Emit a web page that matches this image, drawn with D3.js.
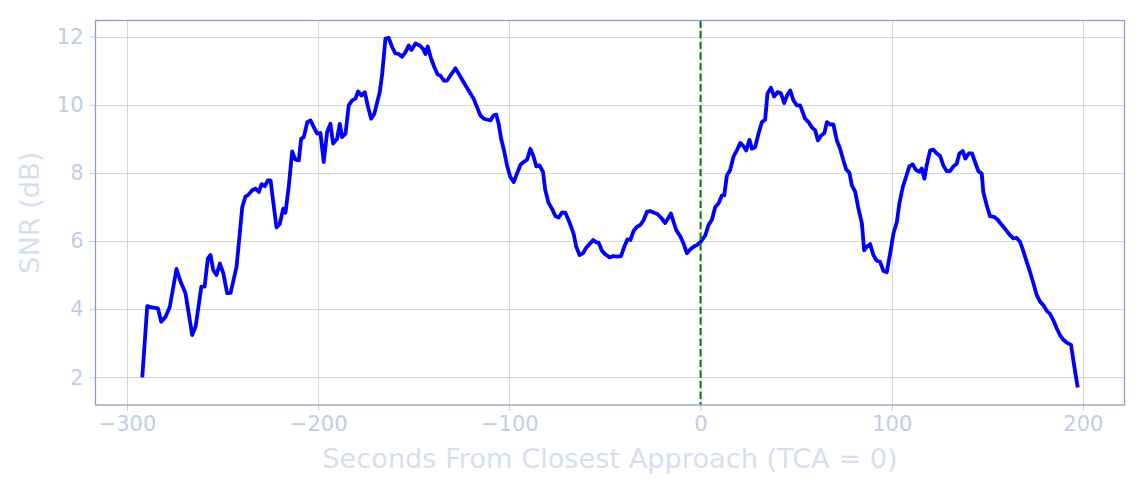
<!DOCTYPE html>
<html>
<head>
<meta charset="utf-8">
<script src="https://cdn.jsdelivr.net/npm/d3@7"></script>
<style>
  body { margin: 0; background: #fff; }
  svg { display: block; font-family: "DejaVu Sans", sans-serif; }
</style>
</head>
<body>
<div id="chart"></div>
<script>
// seconds from TCA
const seconds = [
  -292.0, -289.4, -286.8, -283.8, -282.1, -279.8, -277.6, -274.1, -272.0, -269.4,
  -265.9, -264.1, -261.1, -259.4, -257.7, -256.3, -254.9, -253.2, -251.4, -249.6,
  -247.6, -245.8, -242.7, -241.5, -239.7, -238.0, -236.8, -234.5, -232.8, -231.0,
  -229.6, -227.9, -226.3, -224.9, -221.8, -220.1, -218.3, -217.1, -215.4, -213.6,
  -211.9, -210.1, -208.9, -207.5, -205.7, -204.0, -202.3, -200.5, -198.8, -197.1,
  -195.3, -193.6, -192.2, -190.1, -188.7, -187.5, -185.7, -184.0, -182.2, -180.5,
  -179.1, -177.4, -175.6, -174.1, -172.3, -170.6, -167.8, -166.5, -164.8, -163.1,
  -161.3, -159.6, -157.9, -156.1, -154.4, -152.6, -151.2, -149.1, -146.9, -145.1,
  -143.9, -142.7, -140.9, -139.2, -137.5, -136.1, -134.3, -132.6, -130.8, -128.2,
  -126.5, -123.9, -121.3, -118.7, -116.9, -115.2, -113.4, -111.3, -109.9, -108.2,
  -106.8, -105.6, -104.3, -103.0, -101.2, -99.5, -97.7, -96.0, -94.2, -92.5,
  -90.7, -89.0, -87.3, -85.9, -84.2, -82.4, -81.2, -79.5, -77.7, -75.9,
  -74.2, -72.4, -70.7, -69.0, -67.7, -66.4, -65.0, -63.3, -61.5, -59.7,
  -57.7, -56.2, -54.5, -53.3, -51.5, -49.8, -47.6, -45.5, -43.4, -41.6,
  -39.9, -38.2, -36.7, -35.0, -33.2, -31.5, -29.8, -28.0, -26.3, -24.6,
  -22.5, -20.7, -18.5, -17.0, -15.5, -14.1, -12.7, -10.6, -8.9, -7.1,
  -5.4, -3.7, -1.9, 0.0, 2.5, 4.2, 6.0, 7.7, 9.4, 11.2,
  12.4, 13.8, 15.5, 17.2, 19.0, 20.8, 22.5, 23.9, 25.6, 26.9,
  28.6, 30.3, 32.1, 33.8, 35.0, 36.8, 38.5, 40.3, 42.0, 43.8,
  45.2, 46.9, 48.6, 50.4, 52.1, 54.7, 56.5, 58.2, 60.0, 61.4,
  63.1, 64.8, 66.1, 67.8, 69.5, 71.3, 73.0, 74.7, 76.2, 77.9,
  79.1, 80.9, 82.6, 84.4, 85.6, 87.0, 88.7, 90.4, 92.2, 93.9,
  95.7, 97.4, 99.2, 100.9, 102.7, 104.0, 105.8, 107.5, 109.2, 111.0,
  112.8, 114.5, 115.7, 117.1, 118.3, 120.1, 121.8, 123.6, 125.3, 127.0,
  128.8, 130.5, 132.3, 134.0, 135.4, 137.2, 138.5, 140.3, 142.0, 143.6,
  145.3, 147.1, 147.9, 149.7, 151.4, 153.5, 155.3, 157.6, 159.8, 161.9,
  163.6, 165.4, 167.1, 168.8, 170.6, 172.3, 174.1, 175.8, 177.6, 179.3,
  181.1, 182.8, 184.5, 186.3, 188.0, 189.8, 191.5, 193.8, 195.5, 197.3
];

// SNR in dB
const snr = [
  2.00, 4.09, 4.05, 4.02, 3.63, 3.78, 4.07, 5.18, 4.81, 4.47,
  3.24, 3.49, 4.66, 4.66, 5.49, 5.59, 5.15, 5.00, 5.34, 5.05,
  4.47, 4.48, 5.24, 5.93, 7.00, 7.31, 7.34, 7.49, 7.54, 7.44,
  7.67, 7.61, 7.78, 7.78, 6.40, 6.50, 6.95, 6.83, 7.59, 8.63,
  8.39, 8.37, 9.00, 9.05, 9.49, 9.54, 9.34, 9.15, 9.17, 8.32,
  9.20, 9.44, 8.86, 9.00, 9.44, 9.05, 9.15, 9.98, 10.13, 10.18,
  10.39, 10.27, 10.37, 9.98, 9.59, 9.74, 10.37, 10.91, 11.94, 11.96,
  11.69, 11.51, 11.49, 11.41, 11.54, 11.74, 11.61, 11.80, 11.74, 11.64,
  11.49, 11.71, 11.35, 11.10, 10.89, 10.86, 10.71, 10.71, 10.86, 11.07,
  10.91, 10.66, 10.42, 10.18, 9.93, 9.69, 9.59, 9.56, 9.54, 9.69,
  9.71, 9.44, 9.00, 8.71, 8.22, 7.88, 7.73, 7.98, 8.24, 8.32,
  8.39, 8.71, 8.47, 8.19, 8.22, 8.03, 7.49, 7.12, 6.95, 6.73,
  6.69, 6.84, 6.83, 6.61, 6.42, 6.22, 5.83, 5.59, 5.64, 5.81,
  5.93, 6.03, 5.96, 5.95, 5.71, 5.61, 5.52, 5.56, 5.54, 5.56,
  5.83, 6.05, 6.03, 6.30, 6.42, 6.47, 6.61, 6.86, 6.88, 6.84,
  6.79, 6.69, 6.53, 6.66, 6.81, 6.56, 6.32, 6.14, 5.93, 5.64,
  5.75, 5.83, 5.88, 5.97, 6.17, 6.47, 6.63, 7.00, 7.10, 7.34,
  7.34, 7.93, 8.08, 8.47, 8.66, 8.88, 8.78, 8.66, 8.97, 8.71,
  8.76, 9.15, 9.49, 9.56, 10.32, 10.50, 10.24, 10.37, 10.34, 10.05,
  10.27, 10.42, 10.13, 9.98, 9.98, 9.59, 9.49, 9.34, 9.25, 8.95,
  9.10, 9.17, 9.49, 9.42, 9.42, 8.95, 8.71, 8.37, 8.10, 8.00,
  7.64, 7.44, 6.95, 6.52, 5.73, 5.83, 5.91, 5.59, 5.42, 5.39,
  5.12, 5.08, 5.64, 6.22, 6.56, 7.10, 7.59, 7.88, 8.19, 8.25,
  8.08, 8.03, 8.13, 7.83, 8.22, 8.66, 8.68, 8.57, 8.50, 8.22,
  8.05, 8.05, 8.19, 8.27, 8.57, 8.64, 8.42, 8.57, 8.57, 8.32,
  8.05, 7.98, 7.44, 7.05, 6.73, 6.71, 6.63, 6.47, 6.32, 6.17,
  6.08, 6.09, 5.98, 5.71, 5.39, 5.10, 4.76, 4.42, 4.22, 4.12,
  3.95, 3.86, 3.68, 3.44, 3.24, 3.10, 3.02, 2.95, 2.32, 1.70
];

const xTicks = [-300, -200, -100, 0, 100, 200];
const yTicks = [2, 4, 6, 8, 10, 12];
const tcaSecond = 0;

const xLabel = "Seconds From Closest Approach (TCA = 0)";
const yLabel = "SNR (dB)";

const width = 1144;
const height = 494;
const margin = {left: 95.5, right: 19.5, top: 20.5, bottom: 89};

const points = seconds.map((s, i) => [s, snr[i]]);

function padded(extent) {
  const pad = (extent[1] - extent[0]) * 0.05;
  return [extent[0] - pad, extent[1] + pad];
}

const scaleX = d3.scaleLinear()
  .domain(padded(d3.extent(seconds)))
  .range([margin.left, width - margin.right]);

const scaleY = d3.scaleLinear()
  .domain(padded(d3.extent(snr)))
  .range([height - margin.bottom, margin.top]);

const svg = d3.select("#chart").append("svg")
  .attr("width", width)
  .attr("height", height);

const tickColor = "#c3cde0";
const labelColor = "#d7dfee";
const gridColor = "#d1d6e2";
const spineColor = "#8e9ec0";
const fmt = d => d < 0 ? "\u2212" + Math.abs(d) : String(d);

// grid
const grid = svg.append("g").attr("class", "grid");
grid.selectAll(".gx")
  .data(xTicks)
  .enter()
  .append("line")
  .attr("x1", d => Math.round(scaleX(d)) + 0.5)
  .attr("x2", d => Math.round(scaleX(d)) + 0.5)
  .attr("y1", margin.top)
  .attr("y2", height - margin.bottom)
  .attr("stroke", gridColor)
  .attr("stroke-width", 1);
grid.selectAll(".gy")
  .data(yTicks)
  .enter()
  .append("line")
  .attr("x1", margin.left)
  .attr("x2", width - margin.right)
  .attr("y1", d => Math.round(scaleY(d)) + 0.5)
  .attr("y2", d => Math.round(scaleY(d)) + 0.5)
  .attr("stroke", gridColor)
  .attr("stroke-width", 1);

// snr line
const line = d3.line()
  .x(d => scaleX(d[0]))
  .y(d => scaleY(d[1]));

svg.append("path")
  .datum(points)
  .attr("d", line)
  .attr("fill", "none")
  .attr("stroke", "#0000ff")
  .attr("stroke-width", 3.8)
  .attr("stroke-linejoin", "round")
  .attr("stroke-linecap", "butt");

// TCA marker
svg.append("line")
  .attr("x1", scaleX(tcaSecond))
  .attr("x2", scaleX(tcaSecond))
  .attr("y1", margin.top)
  .attr("y2", height - margin.bottom)
  .attr("stroke", "#008000")
  .attr("stroke-width", 2)
  .attr("stroke-dasharray", "7.4,3.2");

// axes
const xAxis = d3.axisBottom(scaleX)
  .tickValues(xTicks)
  .tickFormat(fmt)
  .tickSize(6)
  .tickPadding(5);
const groupAxisX = svg.append("g")
  .attr("transform", `translate(0, ${height - margin.bottom})`)
  .call(xAxis);

const yAxis = d3.axisLeft(scaleY)
  .tickValues(yTicks)
  .tickFormat(fmt)
  .tickSize(6)
  .tickPadding(6);
const groupAxisY = svg.append("g")
  .attr("transform", `translate(${margin.left}, 0)`)
  .call(yAxis);

[groupAxisX, groupAxisY].forEach(g => {
  g.select(".domain").remove();
  g.selectAll(".tick line").attr("stroke", tickColor);
  g.selectAll(".tick text")
    .attr("fill", tickColor)
    .style("font-size", "21px")
    .style("font-family", "DejaVu Sans");
});

// frame
svg.append("rect")
  .attr("x", margin.left)
  .attr("y", margin.top)
  .attr("width", width - margin.left - margin.right)
  .attr("height", height - margin.top - margin.bottom)
  .attr("fill", "none")
  .attr("stroke", spineColor)
  .attr("stroke-width", 1.3);

// labels
svg.append("text")
  .attr("x", (margin.left + width - margin.right) / 2)
  .attr("y", 468)
  .attr("text-anchor", "middle")
  .attr("fill", labelColor)
  .style("font-size", "27.2px")
  .text(xLabel);

svg.append("text")
  .attr("transform", `translate(39, ${(margin.top + height - margin.bottom) / 2}) rotate(-90)`)
  .attr("text-anchor", "middle")
  .attr("fill", labelColor)
  .style("font-size", "27.2px")
  .text(yLabel);
</script>
</body>
</html>
